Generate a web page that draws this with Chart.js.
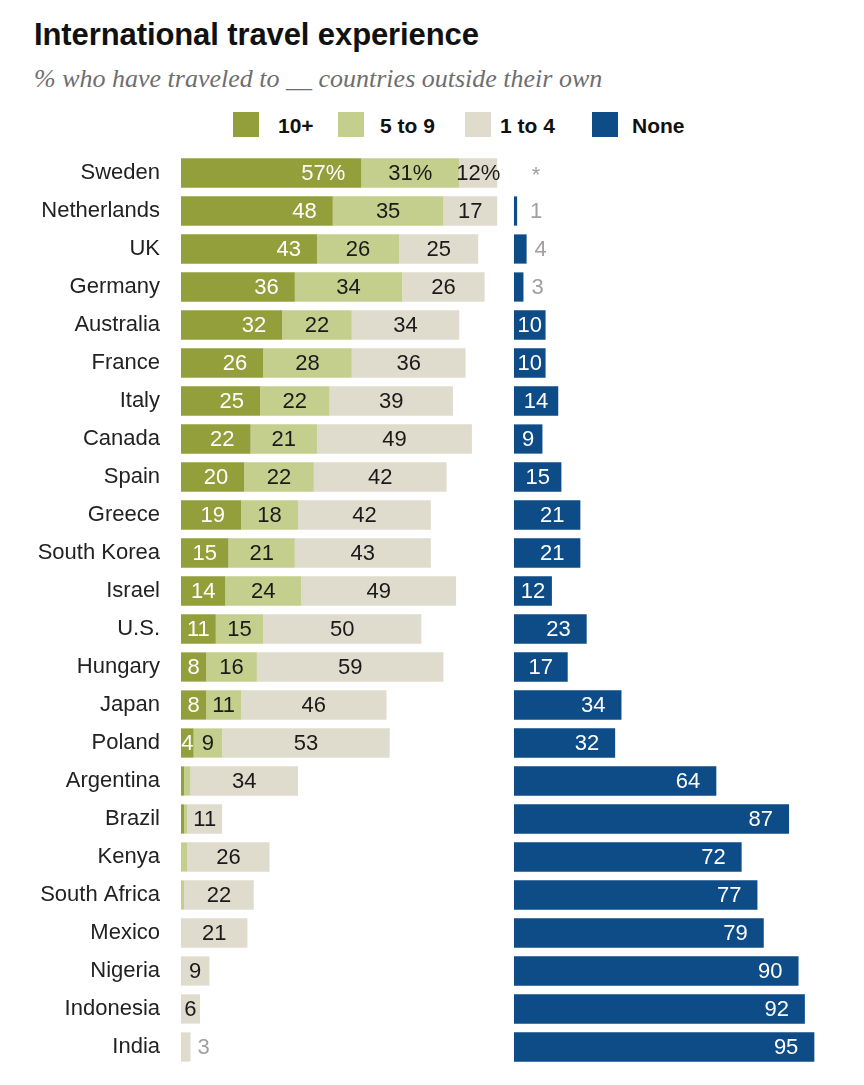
<!DOCTYPE html>
<html>
<head>
<meta charset="utf-8">
<script src="https://cdn.jsdelivr.net/npm/chart.js@4.4.1/dist/chart.umd.min.js"></script>
<style>
  html, body { margin: 0; padding: 0; background: #fff; }
  body { width: 864px; height: 1085px; position: relative; overflow: hidden; font-family: "Liberation Sans", Arial, sans-serif; }
  .title { position: absolute; left: 34px; top: 19px; font: bold 31px/31px "Liberation Sans", Arial, sans-serif; color: #111; white-space: nowrap; letter-spacing: -0.1px; }
  .subtitle { position: absolute; left: 34px; top: 66px; font: italic 26px/26px "Liberation Serif", "Times New Roman", serif; color: #6e6e6e; white-space: nowrap; }
  .sw { position: absolute; top: 112px; width: 26px; height: 25px; }
  .lt { position: absolute; top: 115px; font: bold 21px/21px "Liberation Sans", Arial, sans-serif; color: #111; white-space: nowrap; }
  #chart { position: absolute; left: 0; top: 154px; }
</style>
</head>
<body>
<div class="title">International travel experience</div>
<div class="subtitle">% who have traveled to __ countries outside their own</div>

<div class="sw" style="left:233px; background:#939f3b;"></div><div class="lt" style="left:278px;">10+</div>
<div class="sw" style="left:338px; background:#c4cf8e;"></div><div class="lt" style="left:380px;">5 to 9</div>
<div class="sw" style="left:465px; background:#dfdbcd;"></div><div class="lt" style="left:500px;">1 to 4</div>
<div class="sw" style="left:592px; background:#0d4c86;"></div><div class="lt" style="left:632px;">None</div>

<canvas id="chart" width="864" height="912"></canvas>

<script>
/* ---- data ---- */
const countries = ['Sweden', 'Netherlands', 'UK', 'Germany', 'Australia', 'France', 'Italy', 'Canada',
  'Spain', 'Greece', 'South Korea', 'Israel', 'U.S.', 'Hungary', 'Japan', 'Poland', 'Argentina',
  'Brazil', 'Kenya', 'South Africa', 'Mexico', 'Nigeria', 'Indonesia', 'India'];
const tenPlus    = [57, 48, 43, 36, 32, 26, 25, 22, 20, 19, 15, 14, 11, 8, 8, 4, 1, 1, 0, 0, 0, 0, 0, 0];
const fiveToNine = [31, 35, 26, 34, 22, 28, 22, 21, 22, 18, 21, 24, 15, 16, 11, 9, 2, 1, 2, 1, 0, 0, 0, 0];
const oneToFour  = [12, 17, 25, 26, 34, 36, 39, 49, 42, 42, 43, 49, 50, 59, 46, 53, 34, 11, 26, 22, 21, 9, 6, 3];
const none       = [null, 1, 4, 3, 10, 10, 14, 9, 15, 21, 21, 12, 23, 17, 34, 32, 64, 87, 72, 77, 79, 90, 92, 95];
const seriesNames = ['10+', '5 to 9', '1 to 4', 'None'];

const colors = ['#939f3b', '#c4cf8e', '#dfdbcd', '#0d4c86'];
const noneOffset = 105.3; // where the "None" panel starts on the shared x scale
const FONT = '"Liberation Sans", Arial, sans-serif';

// floating [start, end] pairs for the stacked left panel
const seg1 = tenPlus.map(v => [0, v]);
const seg2 = fiveToNine.map((v, i) => [tenPlus[i], tenPlus[i] + v]);
const seg3 = oneToFour.map((v, i) => [tenPlus[i] + fiveToNine[i], tenPlus[i] + fiveToNine[i] + v]);
const seg4 = none.map(v => v === null ? null : [noneOffset, noneOffset + v]);

const valueLabels = {
  id: 'valueLabels',
  afterDatasetsDraw(chart) {
    const ctx = chart.ctx;
    const xs = chart.scales.x;
    const ys = chart.scales.y;
    ctx.save();
    ctx.font = '22px ' + FONT;
    ctx.textBaseline = 'middle';
    chart.data.datasets.forEach((ds, di) => {
      const meta = chart.getDatasetMeta(di);
      ds.raw.forEach((v, i) => {
        const y = ys.getPixelForValue(i) + 1;
        const pct = i === 0 ? '%' : '';
        if (v === null) {
          ctx.fillStyle = '#a0a0a0';
          ctx.textAlign = 'center';
          ctx.fillText('*', xs.getPixelForValue(noneOffset) + 22, y + 2);
          return;
        }
        const bar = meta.data[i];
        const end = bar.x, start = bar.base;
        const txt = v + pct;
        const w = ctx.measureText(txt).width;
        if (ds.kind === 'left' || ds.kind === 'none') {
          if (ds.kind === 'none' && v < 5) {
            ctx.fillStyle = '#a0a0a0';
            ctx.textAlign = 'left';
            ctx.fillText(txt, Math.max(end + 8, start + 16), y);
            return;
          }
          if (v < 3) return;
          ctx.fillStyle = '#fff';
          ctx.textAlign = 'right';
          ctx.fillText(txt, Math.max(end - 16, (start + end) / 2 + w / 2), y);
        } else {
          if (ds.kind === 'beige' && v <= 3) {
            ctx.fillStyle = '#a0a0a0';
            ctx.textAlign = 'left';
            ctx.fillText(txt, end + 7, y);
            return;
          }
          if (v < 3) return;
          ctx.fillStyle = '#1a1a1a';
          ctx.textAlign = 'center';
          ctx.fillText(txt, (start + end) / 2, y);
        }
      });
    });
    ctx.restore();
  }
};

const barStyle = { borderWidth: 0, barPercentage: 0.77, categoryPercentage: 1 };

new Chart(document.getElementById('chart'), {
  type: 'bar',
  data: {
    labels: countries,
    datasets: [
      { label: seriesNames[0], data: seg1, raw: tenPlus, kind: 'left', backgroundColor: colors[0], ...barStyle },
      { label: seriesNames[1], data: seg2, raw: fiveToNine, kind: 'mid', backgroundColor: colors[1], ...barStyle },
      { label: seriesNames[2], data: seg3, raw: oneToFour, kind: 'beige', backgroundColor: colors[2], ...barStyle },
      { label: seriesNames[3], data: seg4, raw: none, kind: 'none', backgroundColor: colors[3], ...barStyle }
    ]
  },
  plugins: [valueLabels],
  options: {
    indexAxis: 'y',
    responsive: false,
    animation: false,
    layout: { padding: 0 },
    plugins: {
      legend: { display: false },
      tooltip: { enabled: false }
    },
    scales: {
      x: { display: false, min: 0, max: 216, stacked: false },
      y: {
        stacked: true,
        grid: { display: false },
        border: { display: false },
        ticks: { color: '#222', font: { size: 22, family: FONT }, padding: 13 },
        afterFit: s => { s.width = 181; s.paddingTop = 0; s.paddingBottom = 0; }
      }
    }
  }
});
</script>
</body>
</html>
